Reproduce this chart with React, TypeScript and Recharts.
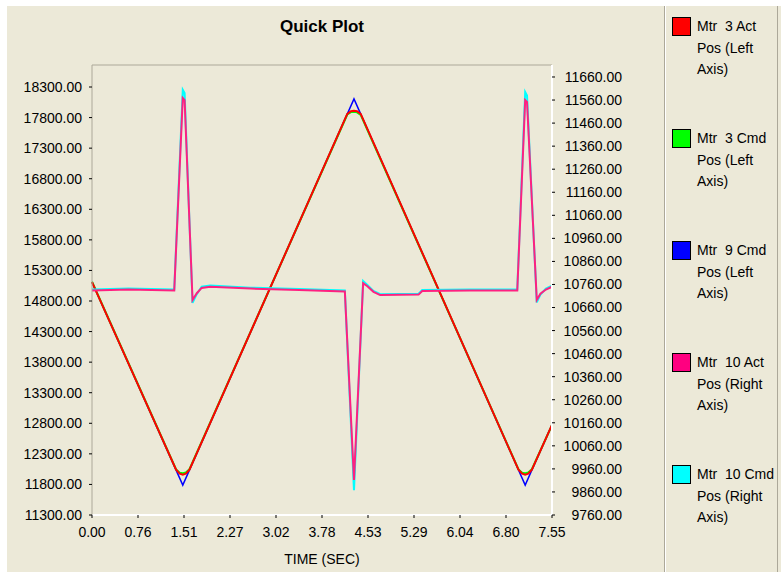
import React from "react";
import { LineChart, Line, XAxis, YAxis, ReferenceLine } from "recharts";

// time axis (seconds)
const xTicks = [0, 0.755, 1.51, 2.265, 3.02, 3.775, 4.53, 5.285, 6.04, 6.795, 7.55];
const xTickLabels = ["0.00", "0.76", "1.51", "2.27", "3.02", "3.78", "4.53", "5.29", "6.04", "6.80", "7.55"];

const leftTicks = [11300, 11800, 12300, 12800, 13300, 13800, 14300, 14800, 15300, 15800, 16300, 16800, 17300, 17800, 18300];
const rightTicks = [9760, 9860, 9960, 10060, 10160, 10260, 10360, 10460, 10560, 10660, 10760, 10860, 10960, 11060, 11160, 11260, 11360, 11460, 11560, 11660];

// Mtr 9 command: sharp triangle wave (left axis)
const mtr9Time = [0, 1.49, 4.3, 7.11, 7.55];
const mtr9CmdPos = [15110, 11790, 18105, 11790, 12775];

// Mtr 3 act / cmd: rounded corners (left axis)
const mtr3Time = [0, 1.38, 1.44, 1.49, 1.54, 1.6, 4.19, 4.25, 4.3, 4.35, 4.41, 7.0, 7.06, 7.11, 7.16, 7.22, 7.55];
const mtr3ActPos = [15110, 12040, 11975, 11960, 11975, 12040, 17860, 17905, 17912, 17905, 17860, 12040, 11975, 11960, 11975, 12040, 12775];
const mtr3CmdPos = [15115, 12045, 11992, 11985, 11995, 12050, 17850, 17890, 17895, 17885, 17845, 12045, 11992, 11985, 11995, 12050, 12770];

// Mtr 10 act / cmd: flat with spikes (right axis)
const mtr10Time = [0, 0.6, 1.35, 1.49, 1.52, 1.65, 1.72, 1.8, 1.94, 2.6, 3.4, 4.15, 4.3, 4.45, 4.52, 4.62, 4.73, 5.36, 5.42, 6.2, 6.98, 7.11, 7.14, 7.3, 7.36, 7.45, 7.55];
const mtr10ActPos = [10734, 10738, 10734, 11569, 11560, 10693, 10722, 10745, 10750, 10742, 10736, 10730, 9912, 10766, 10752, 10728, 10714, 10716, 10732, 10734, 10734, 11560, 11552, 10693, 10720, 10738, 10750];
const mtr10CmdPos = [10738, 10742, 10738, 11604, 11590, 10680, 10718, 10750, 10755, 10746, 10740, 10734, 9868, 10775, 10758, 10732, 10718, 10720, 10736, 10738, 10738, 11595, 11580, 10682, 10716, 10742, 10755];

const legendItems = [
  { color: "#ff0000", lines: ["Mtr  3 Act", "Pos (Left", "Axis)"] },
  { color: "#00ff00", lines: ["Mtr  3 Cmd", "Pos (Left", "Axis)"] },
  { color: "#0000ff", lines: ["Mtr  9 Cmd", "Pos (Left", "Axis)"] },
  { color: "#ff0080", lines: ["Mtr  10 Act", "Pos (Right", "Axis)"] },
  { color: "#00ffff", lines: ["Mtr  10 Cmd", "Pos (Right", "Axis)"] },
];

const LEFT_DOMAIN: [number, number] = [11300, 18660];
const RIGHT_DOMAIN: [number, number] = [9760, 11712];
const FONT = '"Liberation Sans", Arial, sans-serif';
const BG = "#ece9d8";

const toPoints = (t: number[], v: number[]) => t.map((x, i) => ({ t: x, v: v[i] }));

const RightTick = ({ x, y, payload }: any) => (
  <text x={x + 60} y={y} dy="0.355em" textAnchor="end" fontSize={14} fill="#000" fontFamily={FONT}>
    {Number(payload.value).toFixed(2)}
  </text>
);

export default function App() {
  return (
    <div
      style={{
        position: "absolute",
        left: 7,
        top: 6,
        width: 774,
        height: 566,
        background: BG,
        fontFamily: FONT,
      }}
    >
      <div
        style={{
          position: "absolute",
          left: 215,
          top: 11,
          width: 200,
          textAlign: "center",
          fontSize: 17,
          fontWeight: "bold",
          lineHeight: "20px",
        }}
      >
        Quick Plot
      </div>

      <div style={{ position: "absolute", left: 0, top: 0 }}>
        <LineChart width={657} height={566} margin={{ top: 59, right: 22, bottom: 5, left: 5 }}>
          <XAxis
            dataKey="t"
            type="number"
            domain={[0, 7.55]}
            ticks={xTicks}
            interval={0}
            tickFormatter={(_v: number, i: number) => xTickLabels[i]}
            axisLine={{ stroke: "#ffffff", strokeWidth: 2 }}
            tickLine={{ stroke: "#000" }}
            tickSize={3}
            tickMargin={9}
            height={52}
            tick={{ fill: "#000", fontSize: 14, fontFamily: FONT }}
            label={{ value: "TIME (SEC)", position: "insideBottom", offset: 3, fill: "#000", fontSize: 14, fontFamily: FONT }}
          />
          <YAxis
            yAxisId="left"
            orientation="left"
            type="number"
            domain={LEFT_DOMAIN}
            ticks={leftTicks}
            interval={0}
            allowDataOverflow
            width={80}
            tickFormatter={(v: number) => v.toFixed(2)}
            axisLine={{ stroke: "#aca899" }}
            tickLine={{ stroke: "#000" }}
            tickSize={3}
            tickMargin={7}
            tick={{ fill: "#000", fontSize: 14, fontFamily: FONT }}
          />
          <YAxis
            yAxisId="right"
            orientation="right"
            type="number"
            domain={RIGHT_DOMAIN}
            ticks={rightTicks}
            interval={0}
            allowDataOverflow
            width={90}
            axisLine={{ stroke: "#ffffff", strokeWidth: 2 }}
            tickLine={{ stroke: "#000" }}
            tickSize={3}
            tickMargin={7}
            tick={<RightTick />}
          />
          <ReferenceLine yAxisId="left" y={LEFT_DOMAIN[1]} stroke="#aca899" ifOverflow="visible" />

          <Line yAxisId="left" data={toPoints(mtr9Time, mtr9CmdPos)} dataKey="v" stroke="#0000ff" strokeWidth={1.5} dot={false} isAnimationActive={false} />
          <Line yAxisId="left" data={toPoints(mtr3Time, mtr3CmdPos)} dataKey="v" stroke="#00ff00" strokeWidth={2} dot={false} isAnimationActive={false} />
          <Line yAxisId="left" data={toPoints(mtr3Time, mtr3ActPos)} dataKey="v" stroke="#ff0000" strokeWidth={2} dot={false} isAnimationActive={false} />
          <Line yAxisId="right" data={toPoints(mtr10Time, mtr10CmdPos)} dataKey="v" stroke="#00ffff" strokeWidth={2} dot={false} isAnimationActive={false} />
          <Line yAxisId="right" data={toPoints(mtr10Time, mtr10ActPos)} dataKey="v" stroke="#ff2080" strokeWidth={2} dot={false} isAnimationActive={false} />
        </LineChart>
      </div>

      <div
        style={{
          position: "absolute",
          left: 657,
          top: 0,
          width: 112,
          height: 566,
          borderLeft: "1px solid #aca899",
          borderRight: "1px solid #aca899",
          boxShadow: "inset 1px 0 0 #fff",
        }}
      >
        {legendItems.map((item, i) => (
          <div key={i} style={{ position: "absolute", left: 7, top: 10 + i * 112 }}>
            <div
              style={{
                position: "absolute",
                left: 0,
                top: 1,
                width: 17,
                height: 17,
                background: item.color,
                border: "1px solid #000",
              }}
            />
            <div style={{ position: "absolute", left: 25, top: 0, fontSize: 14, lineHeight: "21.5px", whiteSpace: "pre", color: "#000" }}>
              {item.lines.map((l, j) => (
                <div key={j}>{l}</div>
              ))}
            </div>
          </div>
        ))}
      </div>
    </div>
  );
}
